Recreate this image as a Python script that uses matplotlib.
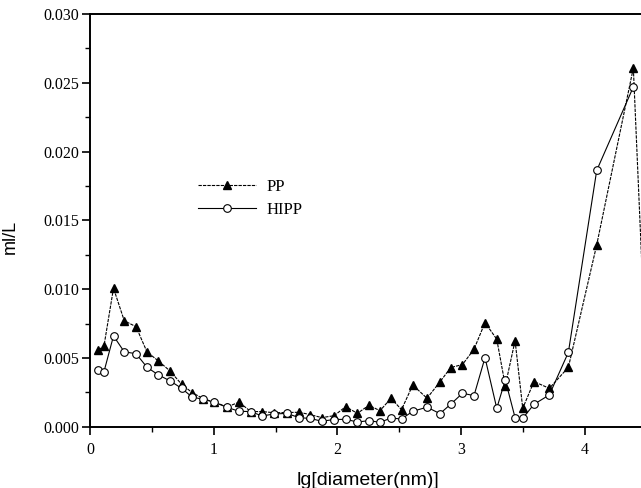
import matplotlib
matplotlib.use("Agg")
import matplotlib.pyplot as plt
from matplotlib.ticker import MultipleLocator, FormatStrFormatter

# Data
lg_diameter = [0.067, 0.113, 0.19, 0.277, 0.372, 0.461, 0.55, 0.647, 0.741, 0.827,
               0.916, 1.006, 1.11, 1.205, 1.30, 1.39, 1.485, 1.59, 1.69, 1.78,
               1.873, 1.973, 2.067, 2.161, 2.255, 2.344, 2.433, 2.518, 2.609, 2.724,
               2.829, 2.916, 3.011, 3.104, 3.193, 3.288, 3.357, 3.436, 3.498, 3.589,
               3.713, 3.867, 4.096, 4.392, 4.50]
pp = [0.00558, 0.00587, 0.01007, 0.00770, 0.00727, 0.00543, 0.00480, 0.00405, 0.00308, 0.00247,
      0.00204, 0.00177, 0.00145, 0.00178, 0.00110, 0.00110, 0.00102, 0.00103, 0.00105, 0.00088,
      0.00066, 0.00080, 0.00146, 0.00097, 0.00156, 0.00116, 0.00207, 0.00124, 0.00303, 0.00207,
      0.00326, 0.00430, 0.00452, 0.00563, 0.00757, 0.00636, 0.00298, 0.00626, 0.00134, 0.00328,
      0.00279, 0.00432, 0.01322, 0.02608, 0.00360]
hipp = [0.00413, 0.00400, 0.00660, 0.00544, 0.00531, 0.00432, 0.00378, 0.00333, 0.00279, 0.00214,
        0.00200, 0.00177, 0.00140, 0.00112, 0.00110, 0.00078, 0.00092, 0.00097, 0.00066, 0.00060,
        0.00040, 0.00052, 0.00054, 0.00034, 0.00044, 0.00032, 0.00063, 0.00056, 0.00112, 0.00142,
        0.00095, 0.00164, 0.00243, 0.00226, 0.00502, 0.00134, 0.00340, 0.00066, 0.00061, 0.00163,
        0.00231, 0.00541, 0.01863, 0.02470]

x_ticks = [0, 1, 2, 3, 4]
x_label = "lg[diameter(nm)]"
y_label = "ml/L"
series_names = ["PP", "HIPP"]

serif = ["Liberation Serif", "DejaVu Serif"]
sans = ["Liberation Sans", "DejaVu Sans"]

fig = plt.figure(figsize=(6.41, 4.88), dpi=100)
ax = fig.add_axes([90 / 641, 0.1256, (646.7 - 90) / 641, 0.9713 - 0.1256])

ax.plot(lg_diameter, pp, color="black", lw=0.8, linestyle=(0, (3, 1)),
        marker="^", markersize=6, markerfacecolor="black", markeredgecolor="black",
        label=series_names[0])
ax.plot(lg_diameter[:len(hipp)], hipp, color="black", lw=0.8, linestyle="-",
        marker="o", markersize=5.5, markerfacecolor="white", markeredgecolor="black",
        markeredgewidth=0.8, label=series_names[1])

ax.set_xlim(0, 4.5)
ax.set_ylim(0, 0.030)
ax.set_xticks(x_ticks)
ax.xaxis.set_minor_locator(MultipleLocator(0.5))
ax.yaxis.set_major_locator(MultipleLocator(0.005))
ax.yaxis.set_minor_locator(MultipleLocator(0.0025))
ax.yaxis.set_major_formatter(FormatStrFormatter("%.3f"))

for s in ["left", "bottom", "top", "right"]:
    ax.spines[s].set_linewidth(1.4)

ax.tick_params(axis="both", which="major", direction="out", length=6, width=1.2)
ax.tick_params(axis="both", which="minor", direction="out", length=3.5, width=1.0)
ax.tick_params(axis="x", which="major", pad=5)
ax.tick_params(axis="y", which="major", pad=2)
ax.tick_params(top=False, right=False, which="both")

for lab in ax.get_xticklabels() + ax.get_yticklabels():
    lab.set_family(serif)
    lab.set_fontsize(11.5)

ax.set_xlabel(x_label, family=sans, fontsize=14)
ax.set_ylabel(y_label, family=sans, fontsize=13)
ax.xaxis.set_label_coords((368 - 90) / (646.7 - 90), -0.11)
ax.yaxis.set_label_coords(-0.128, (426.7 - 237) / (426.7 - 14))

leg = ax.legend(loc="upper left", bbox_to_anchor=(198 / 641, 1 - 179 / 488),
                bbox_transform=fig.transFigure, frameon=False,
                prop={"family": serif, "size": 12}, handlelength=3.5,
                handletextpad=0.6, labelspacing=0.4, borderpad=0, borderaxespad=0)

fig.savefig("out.png", dpi=100)
